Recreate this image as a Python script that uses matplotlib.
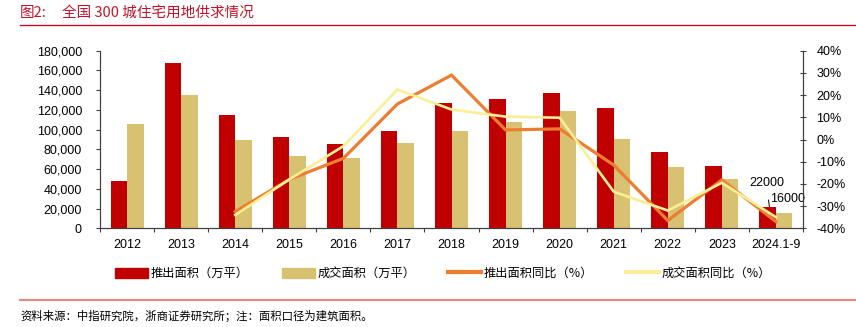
import numpy as np
import matplotlib.pyplot as plt
from matplotlib.patches import Patch
from matplotlib.lines import Line2D
from matplotlib.ticker import FuncFormatter

plt.rcParams['font.family'] = ['Liberation Sans', 'Noto Sans CJK SC', 'DejaVu Sans']
CJK = ['Noto Sans CJK SC', 'DejaVu Sans']

years = ['2012', '2013', '2014', '2015', '2016', '2017', '2018',
         '2019', '2020', '2021', '2022', '2023', '2024.1-9']
supply = [47500, 168000, 114500, 93000, 85000, 98500, 126500,
          131000, 137500, 121500, 77500, 63500, 22000]
deals = [106000, 135000, 89500, 73000, 71000, 86800, 98500,
         108000, 119000, 91000, 62000, 50000, 16000]
# year-on-year change, %, starts in 2014
yoy_years = years[2:]
supply_yoy = [-32.5, -18.0, -8.5, 16.0, 29.0, 4.3, 4.8, -11.5, -36.5, -18.2, -37.0]
deals_yoy = [-34.0, -18.0, -3.0, 22.5, 13.5, 10.3, 9.8, -23.5, -32.0, -19.5, -35.0]

RED = '#C00000'
TAN = '#D9C172'
ORANGE = '#ED7D31'
YELLOW = '#FAEF96'
TITLE_RED = '#C0142C'

fig = plt.figure(figsize=(8.56, 3.27), dpi=100)
ax = fig.add_axes([100 / 856, 1 - 228.3 / 327, 703 / 856, 177.6 / 327])
ax2 = ax.twinx()

x = np.arange(len(years))
w = 0.305
ax.bar(x - w / 2, supply, w, color=RED, zorder=2)
ax.bar(x + w / 2, deals, w, color=TAN, zorder=2)

xi = np.array([years.index(y) for y in yoy_years])
ax2.plot(xi, supply_yoy, color=ORANGE, lw=2.3, solid_joinstyle='miter')
ax2.plot(xi, deals_yoy, color=YELLOW, lw=1.9, solid_joinstyle='miter')

ax.set_xlim(-0.5, len(years) - 0.5)
ax.set_ylim(0, 180000)
ax.set_yticks(np.arange(0, 180001, 20000))
ax.yaxis.set_major_formatter(FuncFormatter(lambda v, _: f'{v:,.0f}'))
ax2.set_ylim(-40, 40)
ax2.set_yticks(np.arange(-40, 41, 10))
ax2.yaxis.set_major_formatter(FuncFormatter(lambda v, _: f'{v:.0f}%'))

ax.set_xticks(x)
ax.set_xticklabels(years)
ax.set_xticks(np.arange(-0.5, len(years)), minor=True)
ax.tick_params(axis='x', which='major', length=0, pad=8, labelsize=9)
ax.tick_params(axis='x', which='minor', length=3, color='#404040', width=0.8)
ax.tick_params(axis='y', length=3, pad=10, labelsize=9, width=0.8, color='#404040')
ax2.tick_params(axis='y', length=5, direction='inout', pad=7, labelsize=9,
                width=0.8, color='#404040')

for a in (ax, ax2):
    a.spines['top'].set_visible(False)
    for s in ('left', 'right', 'bottom'):
        a.spines[s].set_color('#404040')
        a.spines[s].set_linewidth(0.8)

# labels for the partial-year bars
last = len(years) - 1
ax.annotate(f'{supply[last]}', xy=(last - w / 2 + 0.03, supply[last]),
            xytext=(last - 0.5, 46000), fontsize=9, ha='left', va='center',
            arrowprops=dict(arrowstyle='-', color='black', lw=0.7,
                            shrinkA=6, shrinkB=0))
ax.text(last - 0.11, 29800, f'{deals[last]}', fontsize=9, ha='left', va='center')

handles = [Patch(color=RED), Patch(color=TAN),
           Line2D([], [], color=ORANGE, lw=3), Line2D([], [], color=YELLOW, lw=3)]
labels = ['推出面积（万平）', '成交面积（万平）', '推出面积同比（%）', '成交面积同比（%）']
fig.legend(handles, labels, loc='center', bbox_to_anchor=(443 / 856, 1 - 273.5 / 327),
           ncol=4, frameon=False, prop={'family': CJK, 'size': 8.8},
           handlelength=2.7, handleheight=0.85, handletextpad=0.2, columnspacing=2.7)

fig.text(20 / 856, 1 - 13 / 327, '图2:', color=TITLE_RED,
         fontsize=10.5, va='center', ha='left', family=CJK)
fig.text(62 / 856, 1 - 13 / 327, '全国 300 城住宅用地供求情况', color=TITLE_RED,
         fontsize=10.5, va='center', ha='left', family=CJK)
fig.add_artist(Line2D([20 / 856, 1], [1 - 24.5 / 327] * 2, color=TITLE_RED, lw=1.0))
fig.add_artist(Line2D([20 / 856, 1], [1 - 299.5 / 327] * 2, color='#E08A88', lw=1.6))
fig.text(20 / 856, 1 - 316 / 327, '资料来源：中指研究院，浙商证券研究所；注：面积口径为建筑面积。',
         fontsize=8.2, va='center', ha='left', family=CJK)

fig.savefig('out.png', dpi=100)
